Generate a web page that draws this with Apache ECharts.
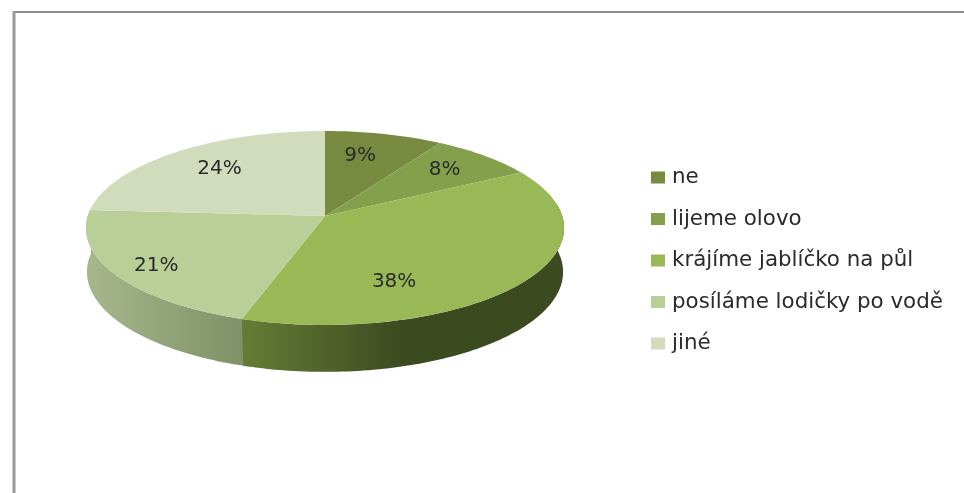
<!DOCTYPE html>
<html><head><meta charset="utf-8">
<style>html,body{margin:0;padding:0;background:#fff}#c{width:964px;height:493px}</style>
<script src="https://cdn.jsdelivr.net/npm/echarts@6/dist/echarts.min.js"></script>
</head><body><div id="c"></div>
<script>
const categories = ['ne','lijeme olovo','krájíme jablíčko na půl','posíláme lodičky po vodě','jiné'];
const percentValues = [9,8,38,21,24];
const sliceColors = ['#778a40','#84a04c','#98b955','#b9cf97','#d0dcbb'];
const wallColors = [null,null,['#667c35','#3c4a20'],['#a8b78c','#7f9168'],null];
const labelNudges = [[-2,-9],[21,-9],[-46,27],[-46,16],[-13,-8]];

const total = percentValues.reduce((a,b)=>a+b,0);
const P = {cx:325, ay:216, a:237.2, b:95.5, k:0.1237, depth:43.6, sx:0.996, sy:1.03};
function proj(t,f,bottom){
  const X=Math.sin(t)*f, Y=-Math.cos(t)*f, w=1-P.k*Y;
  if(bottom) return [P.cx+P.a*P.sx*X/w, P.ay+P.depth+P.b*P.sy*Y/w];
  return [P.cx+P.a*X/w, P.ay+P.b*Y/w];
}
function arc(t0,t1,bottom){
  const n=Math.max(2,Math.ceil((t1-t0)/0.02)),pts=[];
  for(let i=0;i<=n;i++) pts.push(proj(t0+(t1-t0)*i/n,1,bottom));
  return pts;
}
const T=Math.PI*2;
function renderSlice(i){
  return function(params,api){
    const start=api.value(1)/total*T, val=api.value(0), end=start+val/total*T;
    const kids=[];
    const wc=wallColors[i];
    if(wc){
      const t0=Math.max(start,Math.PI/2-0.12), t1=end;
      const top=arc(t0,t1,false), bot=arc(t0,t1,true).reverse();
      const all=top.concat(bot);
      const stops = i===2
        ? [{offset:0,color:wc[0]},{offset:0.5,color:wc[1]},{offset:1,color:wc[1]}]
        : [{offset:0,color:wc[0]},{offset:1,color:wc[1]}];
      kids.push({type:'polygon',shape:{points:all},
        style:{fill:new echarts.graphic.LinearGradient(0,0,1,0,stops)}});
    }
    const topPts=[[P.cx,P.ay]].concat(arc(start,end,false));
    kids.push({type:'polygon',shape:{points:topPts},style:{fill:sliceColors[i]}});
    const mid=(start+end)/2, lp=proj(mid,0.6,false), nd=labelNudges[i];
    kids.push({type:'text',z2:10,x:lp[0]+nd[0],y:lp[1]+nd[1],
      style:{text:val+'%',fill:'#2b2b2b',font:'20px "DejaVu Sans"',align:'center',verticalAlign:'middle'}});
    return {type:'group',children:kids};
  };
}
let cum=0;
const series=categories.map((name,i)=>{
  const s={type:'custom',name,coordinateSystem:'none',silent:true,animation:false,z:2,
    itemStyle:{color:sliceColors[i]},renderItem:renderSlice(i),
    data:[[percentValues[i],cum]]};
  cum+=percentValues[i];
  return s;
});
const chart=echarts.init(document.getElementById('c'),null,{renderer:'canvas'});
chart.setOption({
  animation:false,backgroundColor:'#fff',
  legend:{orient:'vertical',left:651,top:167,padding:0,icon:'rect',itemWidth:14,itemHeight:12,itemGap:20.5,
    data:categories,selectedMode:false,
    textStyle:{fontFamily:'"DejaVu Sans"',fontSize:21.4,lineHeight:20,color:'#2b2b2b',padding:[0,0,0,2]}},
  graphic:[
    {type:'line',silent:true,shape:{x1:13,y1:12,x2:964,y2:12},style:{stroke:'#8a8a8a',lineWidth:2}},
    {type:'line',silent:true,shape:{x1:14,y1:11,x2:14,y2:493},style:{stroke:'#999',lineWidth:3}}
  ],
  series
});
</script></body></html>
